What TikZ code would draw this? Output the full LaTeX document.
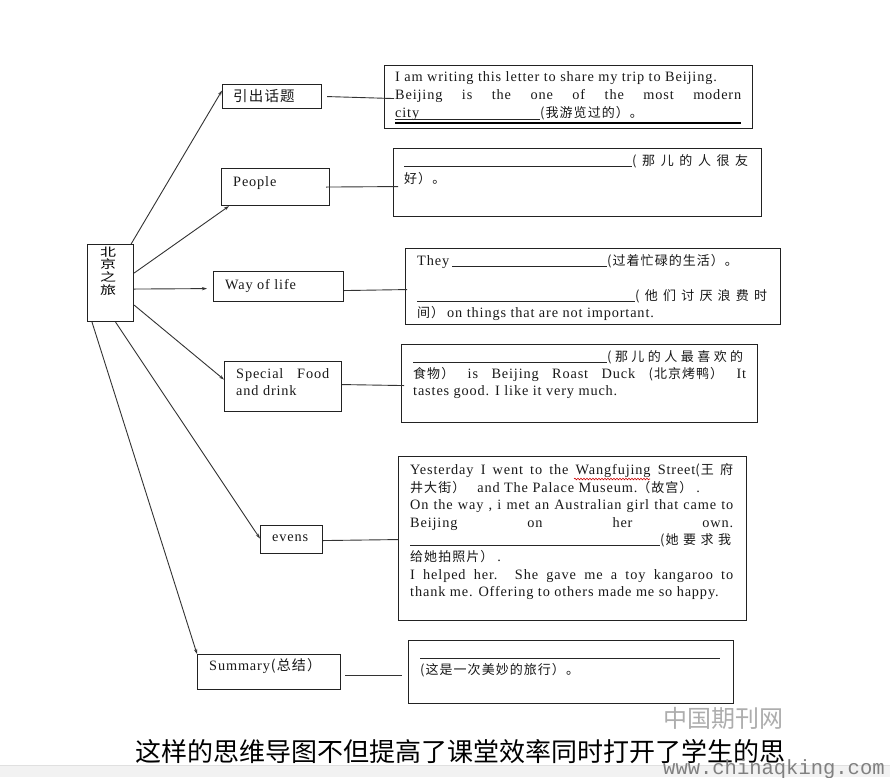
\documentclass[tikz,border=0pt]{standalone}
\usepackage{fontspec}
\setmainfont{Liberation Serif}[LetterSpace=6]
\newfontfamily\cjk{Noto Sans CJK SC}
\newfontfamily\cjkb{Noto Sans CJK SC}[LetterSpace=8]
\newfontfamily\monofnt{Liberation Mono}
\usetikzlibrary{arrows.meta,decorations.pathmorphing}
\newcommand\zh[1]{{\cjkb\fontsize{13}{14}\selectfont #1}}
\definecolor{linec}{HTML}{333333}
\definecolor{boxc}{HTML}{222222}
\begin{document}
\begin{tikzpicture}[x=1pt,y=-1pt,
  box/.style={draw=boxc, line width=1.1pt, inner sep=0pt, anchor=north west},
  tx/.style={anchor=base west, inner sep=0pt, text=black!90, font=\fontsize{14.3}{15}\selectfont},
  conn/.style={draw=linec, line width=0.9pt},
  arr/.style={draw=linec, line width=0.9pt, -{Stealth[length=5pt,width=3.2pt]}},
  rule/.style={draw=black!85, line width=0.8pt}]
\useasboundingbox (0,0) rectangle (890,777);
\fill[white] (0,0) rectangle (890,777);

% central node
\node[box, minimum width=46pt, minimum height=77pt] (c) at (87,244) {};
\node[inner sep=0pt] (ct) at (108,271) {\scalebox{1}[0.72]{\cjk\fontsize{16}{16.5}\selectfont\shortstack{北\\京\\之\\旅}}};

% label boxes
\node[box, minimum width=99pt, minimum height=24pt] (t1) at (222,84) {};
\node[tx] (t1t) at (233,101.5) {\cjkb\fontsize{14.5}{15}\selectfont 引出话题};
\node[box, minimum width=108pt, minimum height=37pt] (p) at (221,168) {};
\node[tx] (pt) at (233,186) {People};
\node[box, minimum width=130pt, minimum height=30pt] (w) at (213,271) {};
\node[tx] (wt) at (225,289) {Way of life};
\node[box, minimum width=117pt, minimum height=50pt] (f) at (224,361) {};
\node[tx] (ft1) at (236,378) {\makebox[93pt][s]{Special Food}};
\node[tx] (ft2) at (236,395) {and drink};
\node[box, minimum width=62pt, minimum height=28pt] (e) at (260,525) {};
\node[tx] (et) at (272,541) {evens};
\node[box, minimum width=143pt, minimum height=35pt] (s) at (197,654) {};
\node[tx] (st) at (209,670) {Summary\hspace{1pt}{\cjkb\fontsize{14}{15}\selectfont(总结）}};

% content boxes
\node[box, minimum width=368pt, minimum height=63pt] (b1) at (384,65) {};
\node[box, minimum width=368pt, minimum height=68pt] (b2) at (393,148) {};
\node[box, minimum width=375pt, minimum height=76pt] (b3) at (405,248) {};
\node[box, minimum width=356pt, minimum height=78pt] (b4) at (401,344) {};
\node[box, minimum width=348pt, minimum height=164pt] (b5) at (398,456) {};
\node[box, minimum width=325pt, minimum height=63pt] (b6) at (408,640) {};

% box 1 text
\node[tx] (b1l1) at (395,81) {I am writing this letter to share my trip to Beijing.};
\node[tx] (b1l2) at (395,99) {\makebox[346pt][s]{Beijing is the one of the most modern}};
\node[tx] (b1l3) at (395,117) {city};
\node[tx] (b1l3b) at (540,117) {\zh{(我游览过的）。}};
\coordinate (u1a) at (395,119); \coordinate (u1b) at (540,119);
\coordinate (u1c) at (395,123); \coordinate (u1d) at (741,123);
\draw[rule] (u1a) -- (u1b);
\draw[draw=black, line width=1.4pt] (u1c) -- (u1d);

% box 2 text
\coordinate (u2a) at (404,166); \coordinate (u2b) at (632,166);
\draw[rule] (u2a) -- (u2b);
\node[tx] (b2l1) at (632,165) {\makebox[116pt][s]{\zh{( 那 儿 的 人 很 友}}};
\node[tx] (b2l2) at (404,183) {\zh{好）。}};

% box 3 text
\node[tx] (b3l1) at (417,265) {They};
\coordinate (u3a) at (452,266); \coordinate (u3b) at (607,266);
\draw[rule] (u3a) -- (u3b);
\node[tx] (b3l1b) at (607,265) {\zh{(过着忙碌的生活）。}};
\coordinate (u3c) at (417,301); \coordinate (u3d) at (635,301);
\draw[rule] (u3c) -- (u3d);
\node[tx] (b3l2) at (635,300) {\makebox[132pt][s]{\zh{( 他 们 讨 厌 浪 费 时}}};
\node[tx] (b3l3) at (417,317) {\zh{间）}\hspace{3pt}on things that are not important.};

% box 4 text
\coordinate (u4a) at (413,362); \coordinate (u4b) at (607,362);
\draw[rule] (u4a) -- (u4b);
\node[tx] (b4l1) at (607,361) {\makebox[136pt][s]{\zh{( 那 儿 的 人 最 喜 欢 的}}};
\node[tx] (b4l2) at (413,378) {\makebox[333pt][s]{\zh{食物）} is Beijing Roast Duck \zh{(北京烤鸭）} It}};
\node[tx] (b4l3) at (413,395) {tastes good. I like it very much.};

% box 5 text
\node[tx] (b5l1) at (410,474) {\makebox[323pt][s]{Yesterday I went to the Wangfujing Street\zh{(王 府}}};
\coordinate (sq1) at (574,479); \coordinate (sq2) at (650,479);
\draw[red!80!black, line width=0.6pt, decorate, decoration={snake, segment length=3pt, amplitude=0.8pt}] (sq1) -- (sq2);
\node[tx] (b5l2) at (410,492) {\zh{井大街）}\hspace{12pt}and The Palace Museum.\zh{（故宫）}\hspace{4pt}.};
\node[tx] (b5l3) at (410,509) {\makebox[323pt][s]{On the way , i met an Australian girl that came to}};
\node[tx] (b5l4) at (410,527) {\makebox[323pt][s]{Beijing on her own.}};
\coordinate (u5a) at (410,545); \coordinate (u5b) at (660,545);
\draw[rule] (u5a) -- (u5b);
\node[tx] (b5l5) at (660,544) {\makebox[71pt][s]{\zh{(她 要 求 我}}};
\node[tx] (b5l6) at (410,561) {\zh{给她拍照片）}\hspace{4pt}.};
\node[tx] (b5l7) at (410,579) {\makebox[323pt][s]{I helped her. She gave me a toy kangaroo to}};
\node[tx] (b5l8) at (410,596) {thank me. Offering to others made me so happy.};

% box 6 text
\coordinate (u6a) at (420,658); \coordinate (u6b) at (720,658);
\draw[rule] (u6a) -- (u6b);
\node[tx] (b6l1) at (420,674) {\zh{(这是一次美妙的旅行）。}};

% arrows from centre
\draw[arr] ([xshift=-3pt]c.north east) -- ([yshift=6pt]t1.west);
\draw[arr] ([yshift=10pt]c.east) -- ([xshift=8pt]p.south west);
\draw[arr, shorten >=6pt] ([yshift=-6pt]c.east) -- ([yshift=-2pt]w.west);
\draw[arr] ([yshift=-22pt]c.east) -- ([yshift=7pt]f.west);
\draw[arr] ([xshift=5pt]c.south) -- ([yshift=1pt]e.west);
\draw[arr] ([xshift=5pt]c.south west) -- (s.north west);

% horizontal connectors
\draw[conn] ([xshift=5pt]t1.east) -- ([xshift=10pt,yshift=-1.5pt]b1.west);
\draw[conn] ([xshift=-4pt]p.east) -- ([xshift=5pt,yshift=-4pt]b2.west);
\draw[conn] ([yshift=-4pt]w.east) -- ([xshift=2pt,yshift=-3pt]b3.west);
\draw[conn] ([yshift=2pt]f.east) -- ([xshift=3pt,yshift=-2pt]b4.west);
\draw[conn] ([yshift=-1pt]e.east) -- ([yshift=-1pt]b5.west);
\draw[conn] ([xshift=4pt,yshift=-3.5pt]s.east) -- ([xshift=-6pt,yshift=-3.5pt]b6.west);

% watermark and caption
\node[anchor=base west, inner sep=0pt, text=black!32, font=\cjk\fontsize{24}{24}\selectfont] (wm) at (663,727) {中国期刊网};
\fill[black!5] (0,765) rectangle (890,777);
\draw[black!12, line width=0.6pt] (0,765) -- (890,765);
\node[anchor=base west, inner sep=0pt, text=black, font=\cjk\fontsize{26}{26}\selectfont] (cap) at (135,761) {这样的思维导图不但提高了课堂效率同时打开了学生的思};
\node[anchor=base west, inner sep=0pt, text=black!50, font=\monofnt\fontsize{20.5}{20.5}\selectfont] (url) at (663,774) {www.chinaqking.com};
\end{tikzpicture}
\end{document}
